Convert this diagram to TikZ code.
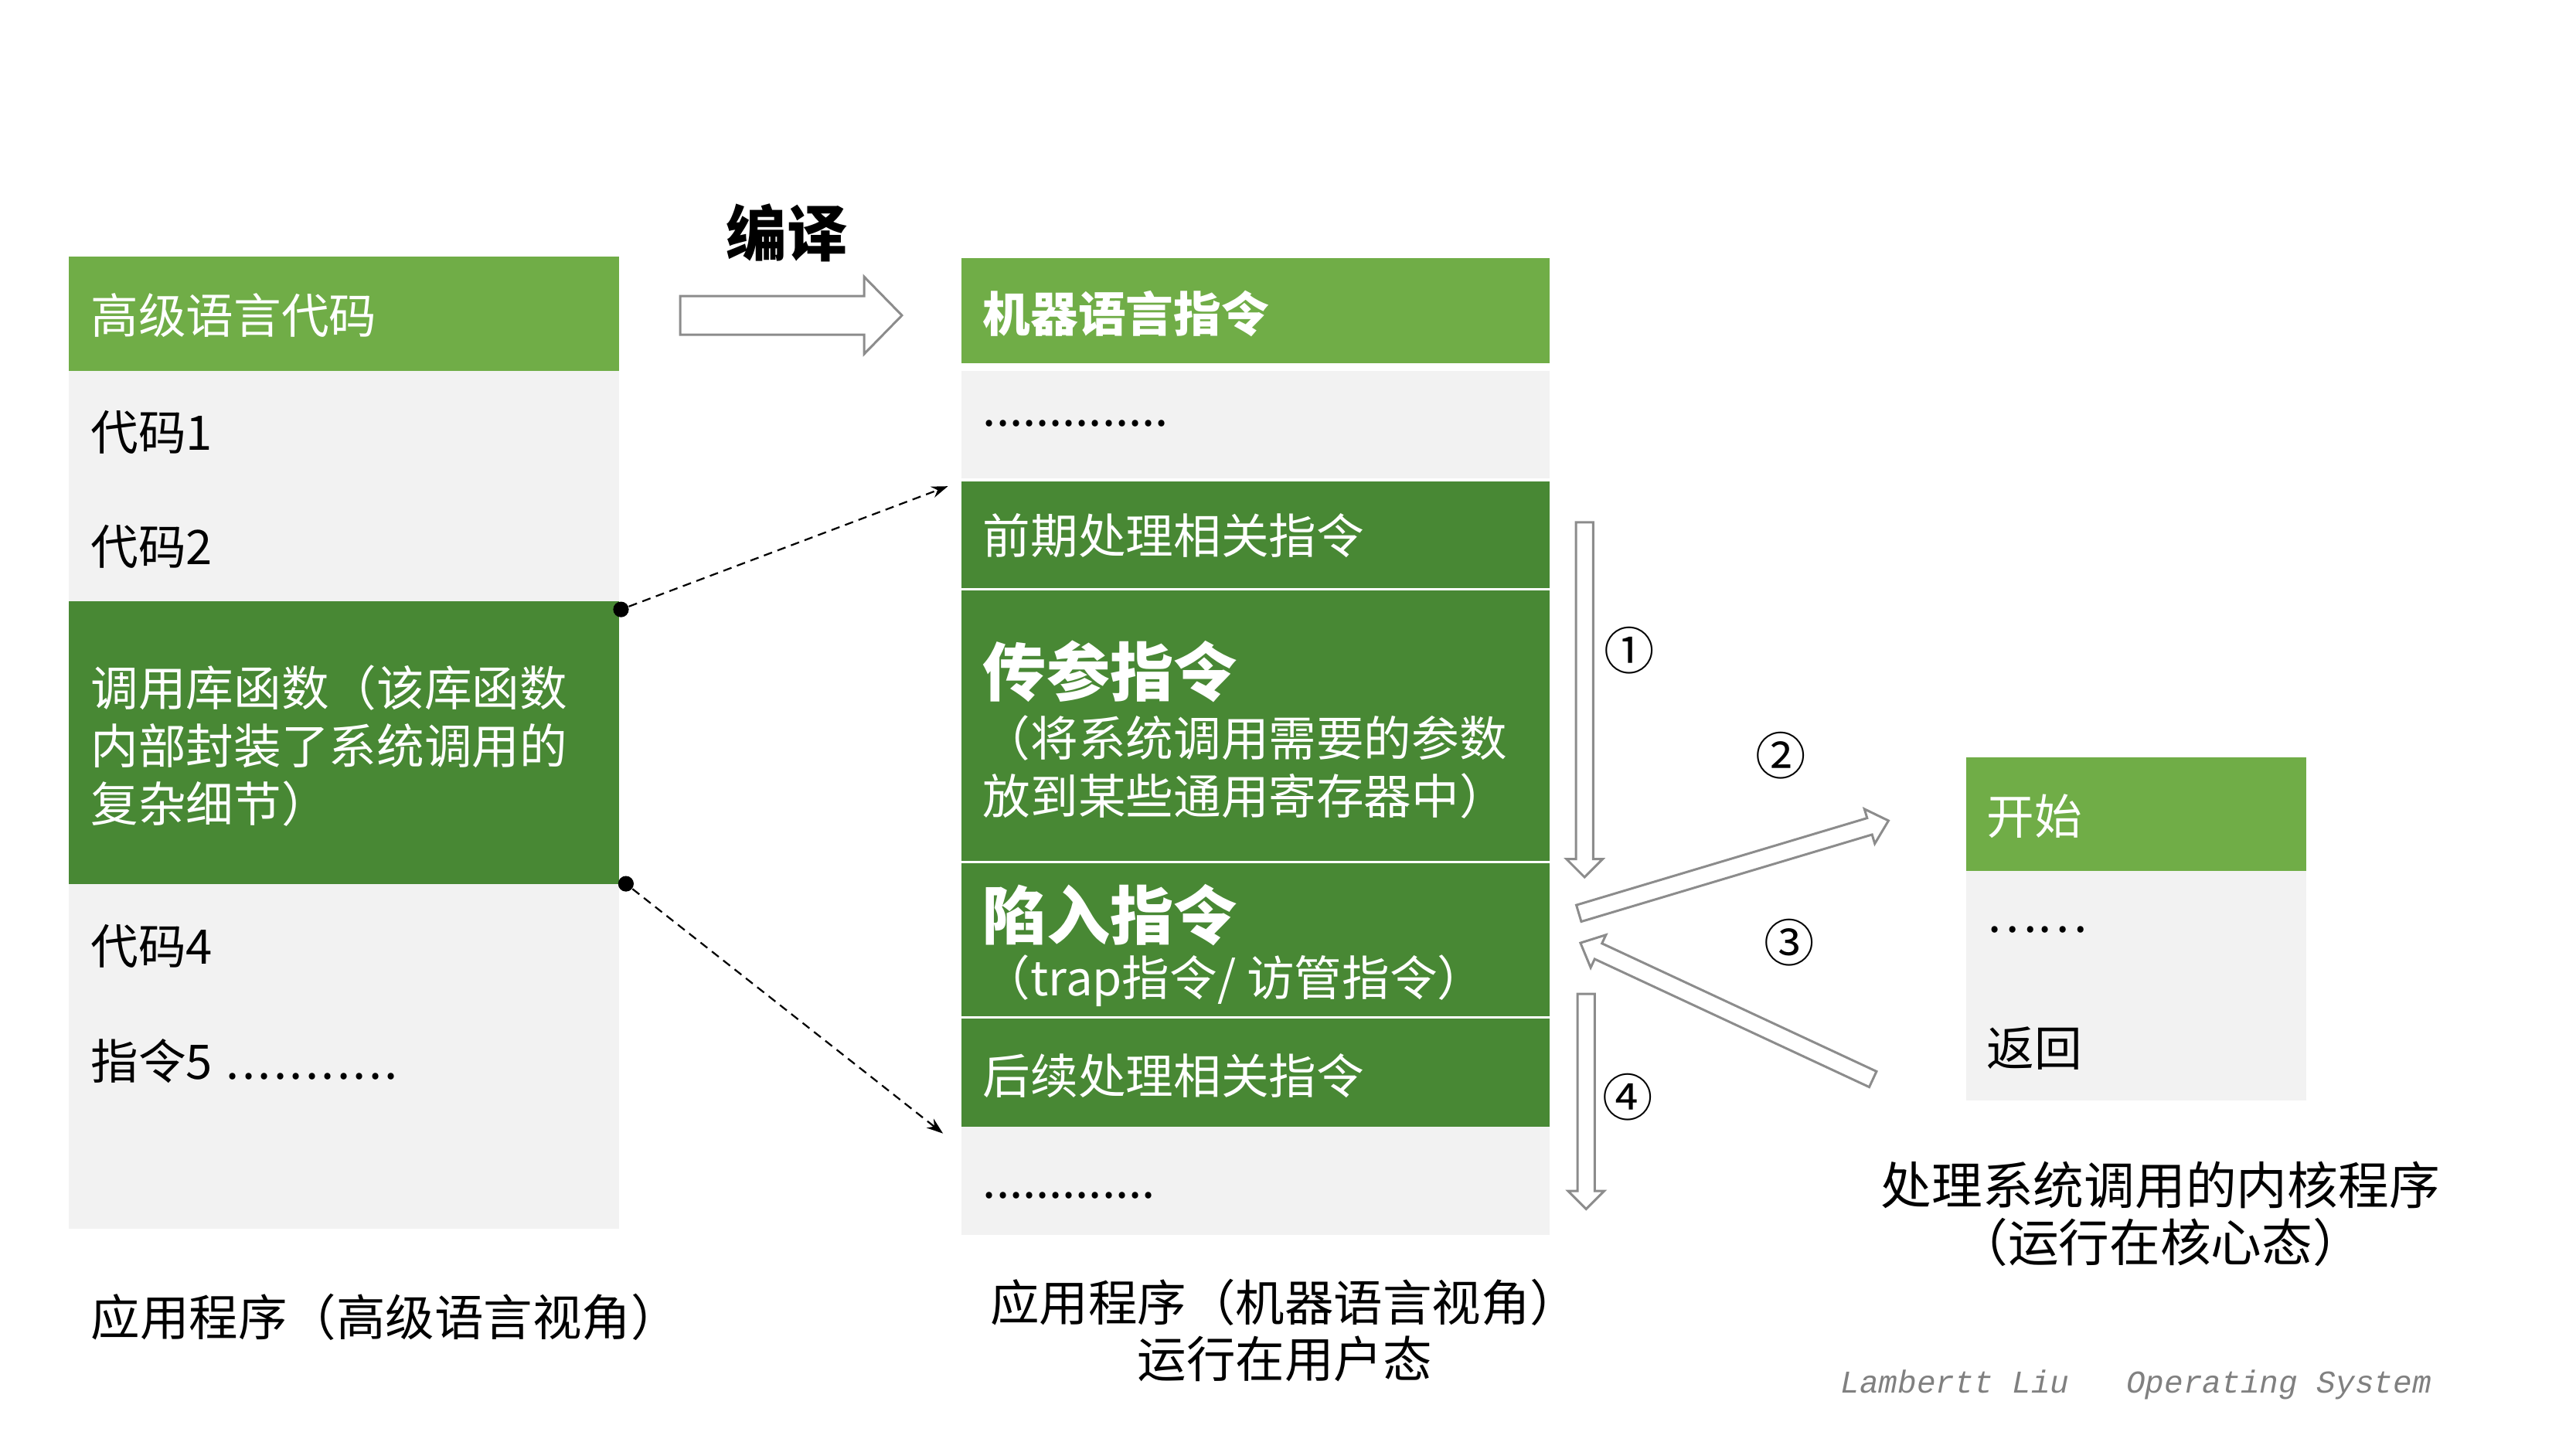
\documentclass[tikz,border=0pt]{standalone}
\usepackage{fontspec}
\setmainfont{Noto Sans CJK SC}
\setmonofont{Liberation Mono}
\usetikzlibrary{arrows.meta,calc}
\definecolor{hdrgreen}{RGB}{112,173,71}
\definecolor{callgreen}{RGB}{72,136,52}
\definecolor{rowgrey}{RGB}{242,242,242}
\definecolor{arrowgrey}{RGB}{140,140,140}
\definecolor{signgrey}{RGB}{128,128,128}

\newcommand{\blockarrow}[5]{%
  \coordinate (hb) at ($(#5)!#3!(#4)$);
  \draw[hollow] ($(#4)!#1!90:(#5)$) -- ($(hb)!#1!-90:(#4)$) -- ($(hb)!#2!-90:(#4)$) -- (#5)
    -- ($(hb)!#2!90:(#4)$) -- ($(hb)!#1!90:(#4)$) -- ($(#4)!#1!-90:(#5)$) -- cycle;}
\newcommand{\sd}{.\kern0.9pt}

\begin{document}
\begin{tikzpicture}[x=0.2mm,y=-0.2mm,>=Stealth,
  rowtext/.style={inner sep=0pt,anchor=west,align=left,font=\fontsize{16.5}{20}\selectfont},
  hdrtext/.style={rowtext,text=white},
  bigtext/.style={hdrtext,font=\fontsize{22}{26}\selectfont\bfseries},
  captext/.style={inner sep=0pt,align=center,font=\fontsize{17}{19.6}\selectfont},
  numtext/.style={inner sep=0pt,font=\fontsize{17.5}{20}\selectfont},
  joint/.style={circle,fill=black,inner sep=0pt,minimum size=1.9mm},
  linkline/.style={dashed,dash pattern=on 3pt off 2pt,line width=0.6pt,-{Stealth[length=2mm,width=1.4mm]}},
  hollow/.style={draw=arrowgrey,fill=white,line width=0.8pt,line join=miter}]
  \useasboundingbox (0,0) rectangle (1568,882);

  \fill[hdrgreen] (42,156) rectangle (377,226);
  \fill[rowgrey] (42,226) rectangle (377,366);
  \fill[callgreen] (42,366) rectangle (377,538);
  \fill[rowgrey] (42,538) rectangle (377,748);
  \node[hdrtext] (hlhdr) at (55,192) {高级语言代码};
  \node[rowtext] (code1) at (55,263) {代码1};
  \node[rowtext] (code2) at (55,333) {代码2};
  \node[hdrtext] (libcall) at (55,454) {调用库函数（该库函数\\内部封装了系统调用的\\复杂细节）};
  \node[rowtext] (code4) at (55,576) {代码4};
  \node[rowtext] (instr5) at (55,646) {指令5 \kern1pt\sd\sd\sd\sd\sd\sd\sd\sd\sd\sd.};
  \node[captext,anchor=west] (hlcap) at (55,802) {应用程序（高级语言视角）};

  \node[inner sep=0pt,font=\fontsize{21}{24}\selectfont\bfseries] (compile) at (479,142) {编译};
  \coordinate (ca) at (414,192);
  \coordinate (cb) at (549,192);
  \blockarrow{2.35mm}{4.7mm}{4.6mm}{ca}{cb}

  \fill[hdrgreen] (585,157) rectangle (943,221);
  \fill[rowgrey] (585,226) rectangle (943,291);
  \fill[callgreen] (585,293) rectangle (943,358);
  \fill[callgreen] (585,359.5) rectangle (943,524);
  \fill[callgreen] (585,525.5) rectangle (943,618.5);
  \fill[callgreen] (585,620) rectangle (943,686);
  \fill[rowgrey] (585,686) rectangle (943,752);
  \node[hdrtext,font=\fontsize{16.5}{20}\selectfont\bfseries] (mlhdr) at (598,191) {机器语言指令};
  \node[rowtext] (dots1) at (598,258) {..............};
  \node[hdrtext] (pre) at (598,326) {前期处理相关指令};
  \node[bigtext] (param) at (598,409) {传参指令};
  \node[hdrtext] (paramnote) at (598,467) {（将系统调用需要的参数\\放到某些通用寄存器中）};
  \node[bigtext] (trap) at (598,557) {陷入指令};
  \node[hdrtext] (trapnote) at (598,597) {（trap指令/ 访管指令）};
  \node[hdrtext] (post) at (598,655) {后续处理相关指令};
  \node[rowtext] (dots2) at (598,728) {.............};
  \node[captext] (mlcap) at (782,810) {应用程序（机器语言视角）\\运行在用户态};

  \node[joint] (j1) at (378,371) {};
  \node[joint] (j2) at (381,538) {};
  \coordinate (t1) at (577,296);
  \coordinate (t2) at (574,690);
  \draw[linkline] (j1) -- (t1);
  \draw[linkline] (j2) -- (t2);

  \fill[hdrgreen] (1197,461) rectangle (1404,530);
  \fill[rowgrey] (1197,530) rectangle (1404,670);
  \node[hdrtext] (start) at (1209,497) {开始};
  \node[rowtext] (kdots) at (1209,566) {……};
  \node[rowtext] (ret) at (1209,638) {返回};
  \node[captext,font=\fontsize{17.6}{20}\selectfont] (kcap) at (1315,739) {处理系统调用的内核程序\\（运行在核心态）};

  \coordinate (s1a) at (964.5,318);
  \coordinate (s1b) at (964.5,534);
  \coordinate (s2a) at (961,556);
  \coordinate (s2b) at (1149.5,499.6);
  \coordinate (s3a) at (1140,657);
  \coordinate (s3b) at (962,574);
  \coordinate (s4a) at (965.5,605);
  \coordinate (s4b) at (965.5,736);
  \blockarrow{1.05mm}{2.2mm}{2.2mm}{s1a}{s1b}
  \blockarrow{1.05mm}{2.2mm}{2.4mm}{s2a}{s2b}
  \blockarrow{1.05mm}{2.2mm}{2.4mm}{s3a}{s3b}
  \blockarrow{1.05mm}{2.2mm}{2.2mm}{s4a}{s4b}
  \node[numtext] (n1) at (992,396) {①};
  \node[numtext] (n2) at (1084,460) {②};
  \node[numtext] (n3) at (1089,574) {③};
  \node[numtext] (n4) at (991,668) {④};

  \node[inner sep=0pt,anchor=west,text=signgrey,font=\ttfamily\itshape\fontsize{11}{13}\selectfont] (sign) at (1120,843) {Lambertt Liu\ \ \ Operating System};
\end{tikzpicture}
\end{document}
